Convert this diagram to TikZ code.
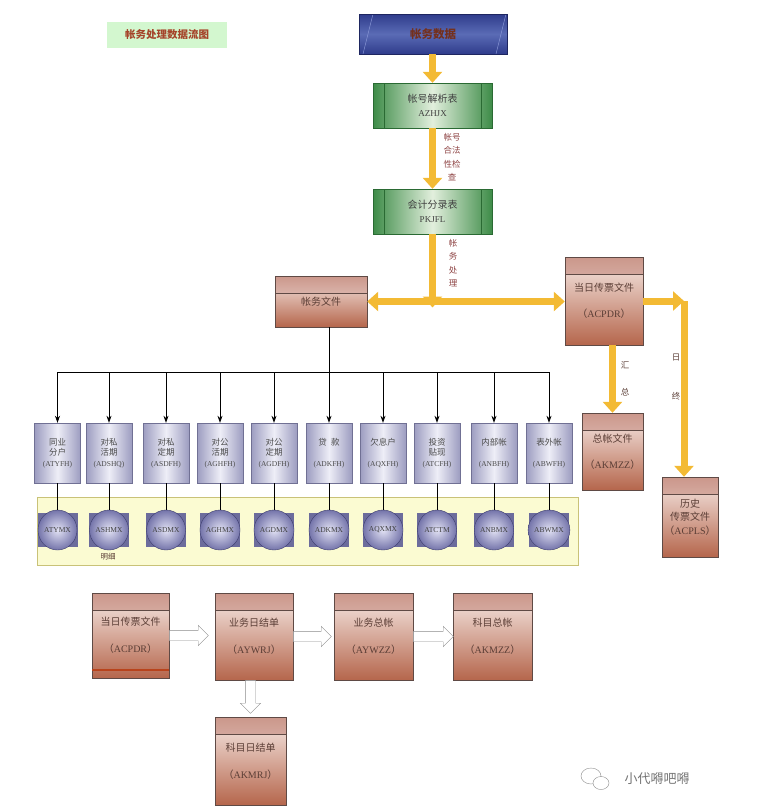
\documentclass[tikz,border=0pt]{standalone}
\usepackage{fontspec}
\setmainfont{Liberation Serif}
\newfontfamily\cjk{Noto Sans CJK SC}
\usetikzlibrary{calc,positioning,arrows.meta,shapes.arrows,shapes.geometric}
\definecolor{titlegreen}{HTML}{D3F7CF}
\definecolor{titlered}{HTML}{A5442A}
\definecolor{bldark}{HTML}{2F3C8C}
\definecolor{blmid}{HTML}{5A6BB5}
\definecolor{bldraw}{HTML}{1E2660}
\definecolor{bllight}{HTML}{8C9AD8}
\definecolor{grdark}{HTML}{3E8C48}
\definecolor{grlight}{HTML}{E2EFDD}
\definecolor{grdraw}{HTML}{2A6A33}
\definecolor{brband}{HTML}{CB978B}
\definecolor{brlight}{HTML}{F7EBE7}
\definecolor{brdark}{HTML}{B5664C}
\definecolor{brdraw}{HTML}{5F4A45}
\definecolor{brtext}{HTML}{5B3E36}
\definecolor{brstripe}{HTML}{B8431C}
\definecolor{pbdark}{HTML}{9C9CC0}
\definecolor{pblight}{HTML}{EEEEF7}
\definecolor{pbdraw}{HTML}{707094}
\definecolor{mxsqcol}{HTML}{6C6C9C}
\definecolor{mxin}{HTML}{E2E2F4}
\definecolor{mxout}{HTML}{7474AA}
\definecolor{mxdraw}{HTML}{3E3E6E}
\definecolor{bandfill}{HTML}{FBFBD2}
\definecolor{banddraw}{HTML}{C9C278}
\definecolor{ygold}{HTML}{F3BA34}
\definecolor{lblred}{HTML}{8E4444}
\newcommand{\qk}[1]{{\cjk （}{\rmfamily #1}{\cjk ）}}

\begin{document}
\begin{tikzpicture}[x=1pt,y=-1pt,
	titlebox/.style={fill=titlegreen, minimum width=120pt, minimum height=26pt, inner sep=0pt,
		font=\cjk\bfseries\fontsize{10.5}{10.5}\selectfont, text=titlered},
	databox/.style={draw=bldraw, top color=bldark, bottom color=bldark, middle color=blmid,
		minimum width=148pt, minimum height=40pt, inner sep=0pt,
		font=\cjk\bfseries\fontsize{11.5}{11.5}\selectfont, text=titlered!70!black,
		path picture={
			\draw[bllight] ([xshift=14pt]path picture bounding box.north west) -- ([xshift=4pt]path picture bounding box.south west);
			\draw[bllight] ([xshift=-1pt]path picture bounding box.north east) -- ([xshift=-11pt]path picture bounding box.south east);
		}},
	tablebox/.style={draw=grdraw, left color=grdark, right color=grdark, middle color=grlight,
		minimum width=119pt, minimum height=45pt, inner sep=0pt, align=center,
		font=\cjk\fontsize{10}{14}\selectfont, text=black!75,
		path picture={
			\draw[grdraw] ([xshift=11pt]path picture bounding box.north west) -- ([xshift=11pt]path picture bounding box.south west);
			\draw[grdraw] ([xshift=-11pt]path picture bounding box.north east) -- ([xshift=-11pt]path picture bounding box.south east);
		}},
	filebox/.style={draw=brdraw, top color=brlight, bottom color=brdark, inner sep=0pt, align=center,
		font=\cjk\fontsize{10}{11}\selectfont, text=brtext,
		path picture={
			\fill[top color=brband, bottom color=brlight] (path picture bounding box.north west) rectangle ([yshift=-17pt]path picture bounding box.north east);
			\draw[brdraw] ([yshift=-17pt]path picture bounding box.north west) -- ([yshift=-17pt]path picture bounding box.north east);
		}},
	acctbox/.style={draw=pbdraw, left color=pbdark, right color=pbdark, middle color=pblight,
		minimum width=46pt, minimum height=60pt, inner sep=0pt, align=center,
		font=\cjk\fontsize{8.5}{10.5}\selectfont, text=black!70},
	mxband/.style={draw=banddraw, fill=bandfill, line width=1pt, minimum width=541pt, minimum height=68pt},
	mxsq/.style={fill=mxsqcol, minimum width=40pt, minimum height=34pt, inner sep=0pt},
	mxball/.style={ellipse, draw=mxdraw, inner color=mxin, outer color=mxout, minimum width=39pt,
		minimum height=40pt, inner sep=0pt, font=\rmfamily\fontsize{7.5}{7.5}\selectfont, text=black!75},
	flowlbl/.style={align=center, inner sep=0pt, font=\cjk\fontsize{8.5}{13.5}\selectfont, text=lblred},
	yline/.style={draw=ygold, line width=7pt},
	yarrow/.style={yline, -{Triangle[length=11pt,width=19pt]}},
	ydouble/.style={yline, {Triangle[length=11pt,width=19pt]}-{Triangle[length=11pt,width=19pt]}},
	tree/.style={line width=0.8pt, -{Stealth[length=7pt,width=5pt]}},
	harrow/.style={single arrow, draw=black!45, fill=white, inner xsep=0pt, inner ysep=5pt,
		single arrow head extend=5pt}
]
	\useasboundingbox (0,0) rectangle (772,812);

	% data source and tables
	\node[titlebox] (title) at (167,34.5) {帐务处理数据流图};
	\node[databox] (zwsj) at (433,34) {帐务数据};
	\node[tablebox] (zhjx) at (432.5,105.5) {帐号解析表\\\rmfamily\fontsize{9}{14}\selectfont AZHJX};
	\node[tablebox] (kjfl) at (432.5,211.5) {会计分录表\\\rmfamily\fontsize{9}{14}\selectfont PKJFL};

	% files
	\node[filebox, minimum width=92pt, minimum height=51pt] (zwwj) at (321,301.5) {帐务文件};
	\node[filebox, minimum width=78pt, minimum height=88pt] (drcp) at (604,301) {当日传票文件\\[15pt]\qk{ACPDR}};
	\node[filebox, minimum width=61pt, minimum height=77pt] (zzwj) at (612.5,451.5) {总帐文件\\[15pt]\qk{AKMZZ}};
	\node[filebox, minimum width=56pt, minimum height=80pt, font=\cjk\fontsize{10}{13.5}\selectfont] (lscp) at (690,517) {历史\\传票文件\\\qk{ACPLS}};

	% yellow flow
	\draw[yarrow] (zwsj.south -| zhjx) -- (zhjx.north);
	\draw[yarrow] (zhjx.south) -- (kjfl.north);
	\coordinate (jc) at (kjfl.south |- zwwj.east);
	\draw[yarrow] (kjfl.south) -- ([yshift=-6pt]jc);
	\draw[ydouble] (zwwj.east) -- (zwwj.east -| drcp.west);
	\coordinate (rz) at (684,301);
	\draw[yarrow] (drcp.east) -- (rz);
	\draw[yarrow] (rz) -- (rz |- lscp.north);
	\draw[yarrow] (drcp.south -| zzwj) -- (zzwj.north);

	\node[flowlbl] (hfjc) at (452,157) {帐号\\合法\\性检\\查};
	\node[flowlbl] (zwcl) at (453,263) {帐\\务\\处\\理};
	\node[flowlbl, text=brtext] (hz) at (625,378.5) {汇\\[13.5pt]总};
	\node[flowlbl, text=brtext] (rzl) at (676,377.5) {日\\[25.5pt]终};

	% detail band
	\node[mxband] (mx) at (307.5,531) {};
	\node[flowlbl, font=\cjk\fontsize{7.5}{7.5}\selectfont, text=brtext] (mxl) at (108,557) {明细};

	\foreach \i/\x/\nm/\code/\mx in {
		1/57.5/{同业\\分户}/ATYFH/ATYMX,
		2/109/{对私\\活期}/ADSHQ/ASHMX,
		3/166/{对私\\定期}/ASDFH/ASDMX,
		4/220/{对公\\活期}/AGHFH/AGHMX,
		5/274/{对公\\定期}/AGDFH/AGDMX,
		6/329/{贷\enspace 款\\~}/ADKFH/ADKMX,
		7/383/{欠息户\\~}/AQXFH/AQXMX,
		8/437/{投资\\贴现}/ATCFH/ATCTM,
		9/494/{内部帐\\~}/ANBFH/ANBMX,
		10/549/{表外帐\\~}/ABWFH/ABWMX}{
		\node[acctbox] (b\i) at (\x,453) {\nm\\\rmfamily\fontsize{7.5}{10.5}\selectfont(\code)};
		\node[mxsq] (s\i) at (\x,530) {};
		\node[mxball] (c\i) at (\x,530) {\mx};
		\draw[line width=0.6pt] (b\i.south) -- (c\i.north);
	}

	% tree from the file
	\coordinate (bus) at (0,372);
	\draw[line width=0.8pt] (zwwj.south -| b6) -- (bus -| b6);
	\draw[line width=0.8pt] (bus -| b1) -- (bus -| b10);
	\foreach \i in {1,...,10}
		\draw[tree] (bus -| b\i) -- (b\i.north);

	% daily summing chain
	\node[filebox, minimum width=77pt, minimum height=85pt] (drcpb) at (130.5,635.5) {当日传票文件\\[16pt]\qk{ACPDR}};
	\draw[brstripe, line width=2.5pt] ([xshift=0.5pt,yshift=8pt]drcpb.south west) -- ([xshift=-0.5pt,yshift=8pt]drcpb.south east);
	\node[filebox, minimum width=78pt, minimum height=87pt] (ywrj) at (254,636.5) {业务日结单\\[16pt]\qk{AYWRJ}};
	\node[filebox, minimum width=79pt, minimum height=87pt] (ywzz) at (373.5,636.5) {业务总帐\\[16pt]\qk{AYWZZ}};
	\node[filebox, minimum width=79pt, minimum height=87pt] (kmzz) at (492.5,636.5) {科目总帐\\[16pt]\qk{AKMZZ}};
	\node[filebox, minimum width=71pt, minimum height=88pt] (kmrj) at (250.5,761) {科目日结单\\[16pt]\qk{AKMRJ}};

	\node[harrow, anchor=tail, minimum height=39pt] (h1) at (drcpb.east) {};
	\node[harrow, anchor=tail, minimum height=38pt] (h2) at (ywrj.east) {};
	\node[harrow, anchor=tail, minimum height=40pt] (h3) at (ywzz.east) {};
	\node[harrow, anchor=tail, rotate=-90, minimum height=33pt] (h4) at (ywrj.south -| kmrj) {};

	% watermark
	\draw[black!45] (591,776) ellipse (10 and 8);
	\draw[black!45, fill=white] (601,783) ellipse (8 and 6.5);
	\node[font=\cjk\fontsize{13}{13}\selectfont, text=black!55] (wm) at (657,779) {小代嘚吧嘚};
\end{tikzpicture}
\end{document}
